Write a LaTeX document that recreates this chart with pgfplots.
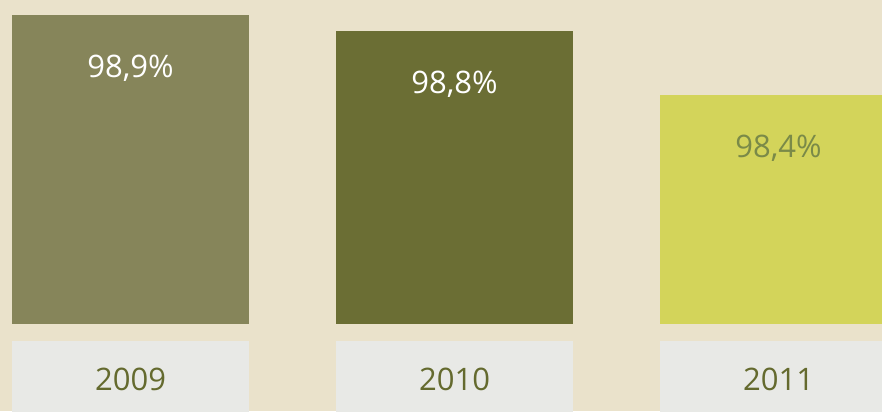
\documentclass[border=0pt]{standalone}
\usepackage{fontspec}
\setmainfont{Open Sans}
\usepackage{pgfplots}
\pgfplotsset{compat=1.18}

\definecolor{bgcol}{HTML}{EAE2CB}
\definecolor{boxcol}{HTML}{E8E9E6}
\definecolor{bar09}{HTML}{86855A}
\definecolor{bar10}{HTML}{6B6E34}
\definecolor{bar11}{HTML}{D3D45A}
\definecolor{yeartxt}{HTML}{646A2E}
\definecolor{lbl11}{HTML}{7A8A48}

\begin{document}
\begin{tikzpicture}
\begin{axis}[
    scale only axis,
    width=882pt, height=411pt,
    xmin=-0.4028, xmax=2.3194,
    ymin=-0.5469, ymax=2.0219,
    axis on top,
    axis background/.style={fill=bgcol},
    axis line style={draw=none},
    major tick length=0pt,
    ytick=\empty,
    xtick={0,1,2},
    xticklabels={2009,2010,2011},
    xticklabel style={anchor=base, yshift=21pt, text=yeartxt,
        font=\fontsize{31}{36}\selectfont},
    y filter/.expression={y-96.97},
    point meta=rawy,
    nodes near coords={\pgfmathprintnumber{\pgfplotspointmeta}\%},
    /pgf/number format/.cd, use comma, fixed, fixed zerofill, precision=1,
        assume math mode=true,
    /pgfplots/.cd,
    every node near coord/.append style={anchor=base, yshift=-63pt,
        font=\fontsize{31}{36}\selectfont},
]
% label boxes under the bars
\fill[boxcol] (axis cs:-0.3657,-0.1094) rectangle (axis cs:0.3657,-0.6);
\fill[boxcol] (axis cs:0.6343,-0.1094) rectangle (axis cs:1.3657,-0.6);
\fill[boxcol] (axis cs:1.6343,-0.1094) rectangle (axis cs:2.3657,-0.6);

\addplot[ybar, bar width=237pt, bar shift=0pt, fill=bar09, draw=none,
    every node near coord/.append style={text=white}]
    coordinates {(0,98.9)};
\addplot[ybar, bar width=237pt, bar shift=0pt, fill=bar10, draw=none,
    every node near coord/.append style={text=white}]
    coordinates {(1,98.8)};
\addplot[ybar, bar width=237pt, bar shift=0pt, fill=bar11, draw=none,
    every node near coord/.append style={text=lbl11}]
    coordinates {(2,98.4)};
\end{axis}
\end{tikzpicture}
\end{document}
